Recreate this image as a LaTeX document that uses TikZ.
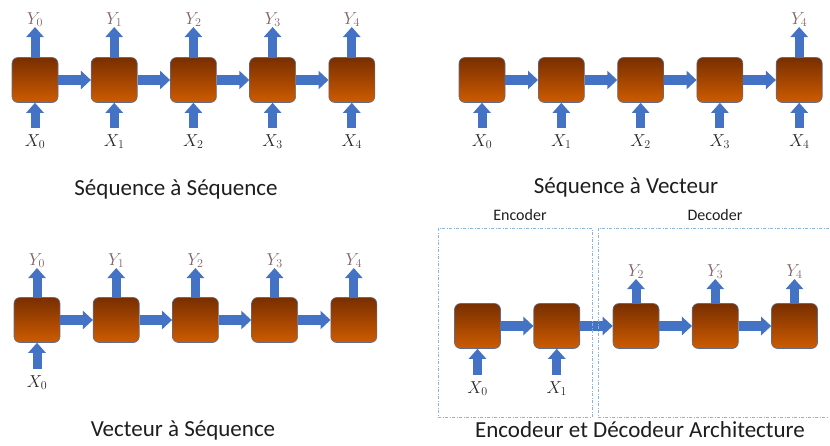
\documentclass[tikz,border=0pt]{standalone}
\usepackage{fontspec}
\setmainfont{Carlito}
\usetikzlibrary{arrows.meta, positioning}

\definecolor{celltop}{RGB}{120,46,0}
\definecolor{cellbot}{RGB}{206,92,0}
\definecolor{cellrim}{RGB}{96,108,140}
\definecolor{arrowblue}{RGB}{68,114,196}
\definecolor{ytext}{RGB}{128,98,98}
\definecolor{xtext}{RGB}{40,40,40}
\definecolor{captext}{RGB}{30,30,30}
\definecolor{zoneblue}{RGB}{135,182,226}

\begin{document}
\begin{tikzpicture}[x=1pt, y=-1pt,
    cell/.style={draw=cellrim, line width=0.6pt, rounded corners=6pt,
      minimum width=46pt, minimum height=45pt, inner sep=0pt,
      top color=celltop, bottom color=cellbot},
    flow/.style={draw=arrowblue, line width=10pt,
      -{Triangle[width=18pt,length=10pt]}},
    feed/.style={draw=arrowblue, line width=9pt,
      -{Triangle[width=17pt,length=10pt]}},
    outlbl/.style={text=ytext, inner sep=0pt, font=\fontsize{18}{18}\selectfont},
    inlbl/.style={text=xtext, inner sep=0pt, font=\fontsize{18}{18}\selectfont},
    panelcap/.style={text=captext, inner sep=1pt, font=\fontsize{23}{26}\selectfont},
    partcap/.style={text=captext, font=\fontsize{16}{19}\selectfont},
    zone/.style={draw=zoneblue, line width=0.8pt,
      dash pattern=on 3pt off 1.5pt on 1pt off 1.5pt}]
\useasboundingbox (0,0) rectangle (830,445);

% sequence -> sequence
\foreach \i in {0,...,4} {
  \node[cell] (s\i) at (35+79.2*\i, 80) {};
  \node[outlbl, anchor=south] (sy\i) at (35+79.2*\i, 27) {$Y_{\i}$};
  \node[inlbl, anchor=north] (sx\i) at (35+79.2*\i, 134) {$X_{\i}$};
  \draw[feed] (s\i.north) -- (sy\i.south);
  \draw[feed, shorten <=6pt] (sx\i.north) -- (s\i.south);
}
\foreach \i [count=\j] in {0,...,3}
  \draw[flow] (s\i.east) -- (s\j.west);
\node[panelcap] (capss) at (176,189) {Séquence à Séquence};

% sequence -> vector
\foreach \i in {0,...,4} {
  \node[cell] (v\i) at (482+79.3*\i, 80) {};
  \node[inlbl, anchor=north] (vx\i) at (482+79.3*\i, 134) {$X_{\i}$};
  \draw[feed, shorten <=6pt] (vx\i.north) -- (v\i.south);
}
\foreach \i [count=\j] in {0,...,3}
  \draw[flow] (v\i.east) -- (v\j.west);
\node[outlbl, anchor=south] (vy4) at (v4.north |- 0,27) {$Y_{4}$};
\draw[feed] (v4.north) -- (vy4.south);
\node[panelcap] (capsv) at (626,187) {Séquence à Vecteur};

% vector -> sequence
\foreach \i in {0,...,4} {
  \node[cell] (w\i) at (37+79.2*\i, 320) {};
  \node[outlbl, anchor=south] (wy\i) at (37+79.2*\i, 268) {$Y_{\i}$};
  \draw[feed] (w\i.north) -- (wy\i.south);
}
\foreach \i [count=\j] in {0,...,3}
  \draw[flow] (w\i.east) -- (w\j.west);
\node[inlbl, anchor=north] (wx0) at (w0.south |- 0,375) {$X_{0}$};
\draw[feed, shorten <=6pt] (wx0.north) -- (w0.south);
\node[panelcap] (capvs) at (183,430) {Vecteur à Séquence};

% encoder / decoder
\foreach \i in {0,...,4}
  \node[cell] (e\i) at (477.5+79.25*\i, 326) {};
\foreach \i [count=\j] in {0,...,3}
  \draw[flow] (e\i.east) -- (e\j.west);
\foreach \i in {0,1} {
  \node[inlbl, anchor=north] (ex\i) at (e\i.south |- 0,381) {$X_{\i}$};
  \draw[feed, shorten <=6pt] (ex\i.north) -- (e\i.south);
}
\foreach \i in {2,3,4} {
  \node[outlbl, anchor=south] (ey\i) at (e\i.north |- 0,279) {$Y_{\i}$};
  \draw[feed] (e\i.north) -- (ey\i.south);
}
\draw[zone] (438,228) rectangle (592,417);
\draw[zone] (829,228) -- (598,228) -- (598,417) -- (829,417);
\node[partcap] (enc) at (520,215) {Encoder};
\node[partcap] (dec) at (715,215) {Decoder};
\node[panelcap] (caped) at (640,430) {Encodeur et Décodeur Architecture};
\end{tikzpicture}
\end{document}
